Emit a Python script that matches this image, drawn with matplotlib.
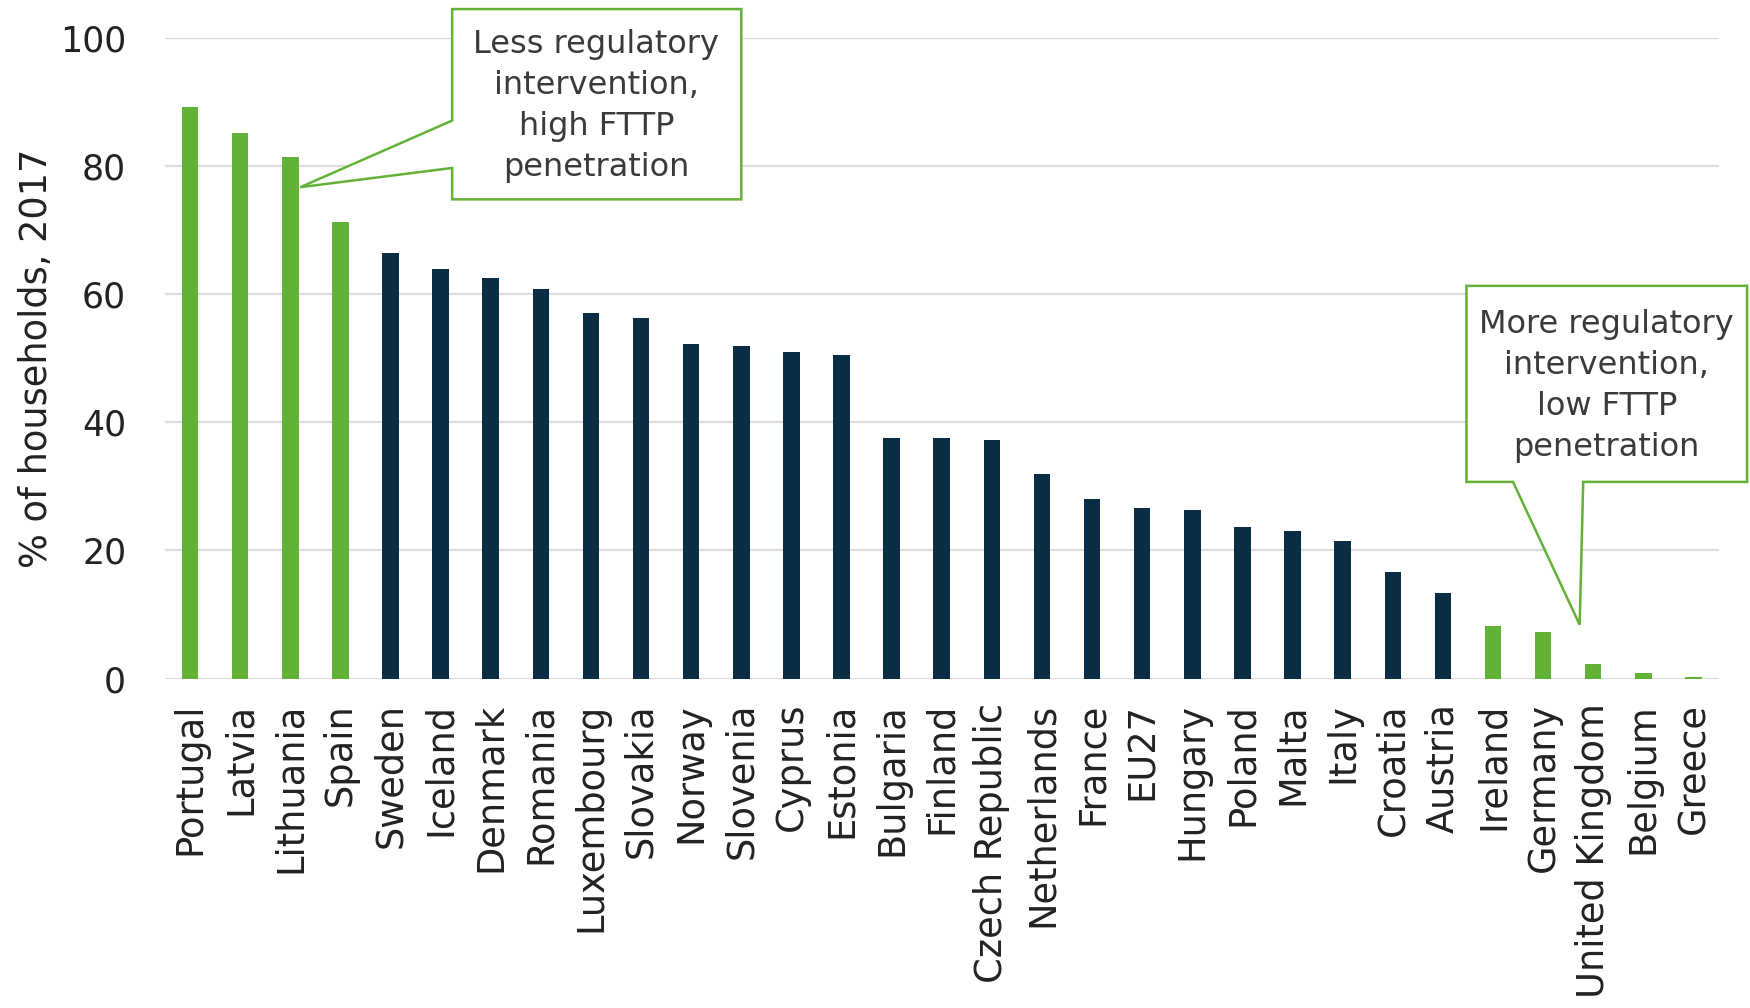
import matplotlib
matplotlib.use("Agg")
import matplotlib.pyplot as plt
from matplotlib.patches import Polygon

countries = ["Portugal", "Latvia", "Lithuania", "Spain", "Sweden", "Iceland", "Denmark",
             "Romania", "Luxembourg", "Slovakia", "Norway", "Slovenia", "Cyprus", "Estonia",
             "Bulgaria", "Finland", "Czech Republic", "Netherlands", "France", "EU27",
             "Hungary", "Poland", "Malta", "Italy", "Croatia", "Austria", "Ireland",
             "Germany", "United Kingdom", "Belgium", "Greece"]
values = [89.2, 85.2, 81.4, 71.3, 66.4, 63.9, 62.5, 60.8, 57.0, 56.3, 52.3, 51.9, 50.9, 50.5,
          37.6, 37.5, 37.3, 31.9, 28.0, 26.7, 26.3, 23.7, 23.0, 21.4, 16.6, 13.4, 8.2,
          7.3, 2.3, 0.9, 0.3]
highlight = [True, True, True, True] + [False] * 22 + [True] * 5
yticks = [0, 20, 40, 60, 80, 100]
ylabel = "% of households, 2017"
note_high = "Less regulatory\nintervention,\nhigh FTTP\npenetration"
note_low = "More regulatory\nintervention,\nlow FTTP\npenetration"

GREEN = "#62B237"
NAVY = "#0A2D45"
TEXT = "#3a3a3a"

plt.rcParams['font.family'] = ['DejaVu Sans']
fig = plt.figure(figsize=(17.5, 10.08), dpi=100)
ax = fig.add_axes([0.0943, 0.3268, 0.8877, 0.6356])

x = list(range(len(countries)))
colors = [GREEN if h else NAVY for h in highlight]
ax.bar(x, values, width=0.33, color=colors, zorder=3)

ax.set_xlim(-0.5, len(countries) - 0.5)
ax.set_ylim(0, 100)
ax.set_yticks(yticks)
ax.yaxis.grid(True, color="#dcdcdc", linewidth=1.6, zorder=0)
ax.set_axisbelow(True)
for s in ["top", "right", "left", "bottom"]:
    ax.spines[s].set_visible(False)
ax.tick_params(axis="both", length=0)
ax.tick_params(axis="y", labelsize=25, labelcolor="#222222", pad=28)
ax.set_xticks(x)
ax.set_xticklabels(countries, rotation=90, fontsize=26.5, color="#222222")
ax.tick_params(axis="x", pad=17.5)
ax.set_ylabel(ylabel, fontsize=26.5, color="#222222")
ax.yaxis.set_label_coords(-0.071, 0.5)

# Callout 1 (data coordinates)
poly1 = [(5.23, 104.5), (11.0, 104.5), (11.0, 74.8), (5.23, 74.8), (5.23, 79.7),
         (2.2, 76.7), (5.23, 87.1)]
ax.add_patch(Polygon(poly1, closed=True, facecolor="white", edgecolor=GREEN,
                     linewidth=1.8, clip_on=False, zorder=5))
ax.text(8.11, 89.4, note_high, ha="center", va="center", fontsize=23,
        color=TEXT, linespacing=1.42, zorder=6, clip_on=False)

# Callout 2
poly2 = [(25.47, 61.3), (31.07, 61.3), (31.07, 30.7), (27.8, 30.7), (27.73, 8.4),
         (26.4, 30.7), (25.47, 30.7)]
ax.add_patch(Polygon(poly2, closed=True, facecolor="white", edgecolor=GREEN,
                     linewidth=1.8, clip_on=False, zorder=5))
ax.text(28.27, 45.7, note_low, ha="center", va="center", fontsize=23,
        color=TEXT, linespacing=1.42, zorder=6, clip_on=False)

fig.savefig("out.png", dpi=100, facecolor="white")
